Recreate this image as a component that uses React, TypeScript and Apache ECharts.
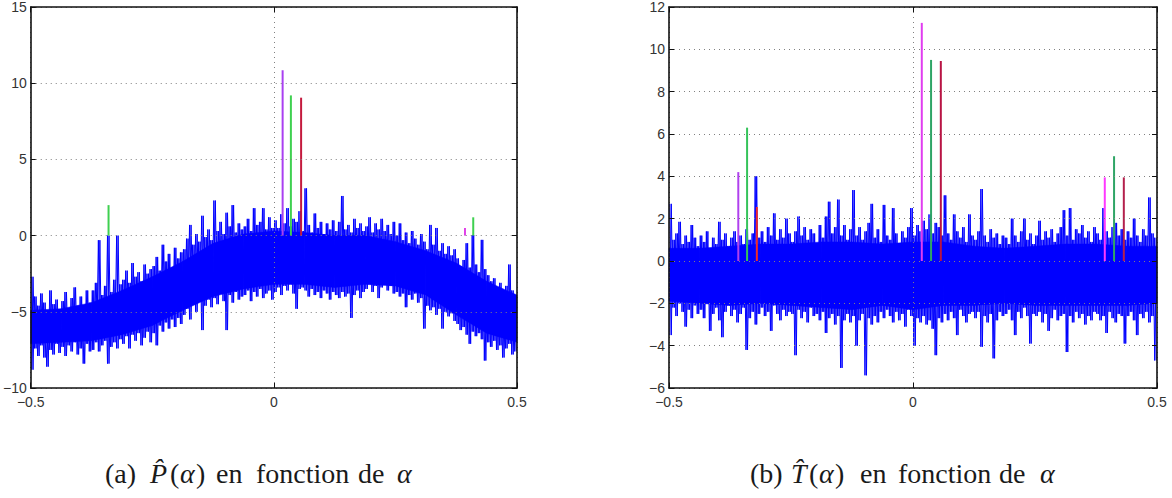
import React, { useEffect, useRef } from "react";
import * as echarts from "echarts";

// Spectral estimates sampled on 160 frequency bins over [-0.5, 0.5]:
// for each bin the upper and lower excursion of the noisy estimate.
const BINS = 160;

const pHi = [
  -2.7, -4.0, -4.6, -3.8, -4.4, -4.9, -3.6, -4.5, -4.2, -5.0,
  -4.3, -3.7, -4.8, -4.1, -3.4, -4.6, -4.0, -4.7, -3.6, -4.4,
  -3.6, -3.1, -0.3, -3.9, -3.3, 0.0, -3.7, -2.9, 0.0, -3.2,
  -2.9, -2.3, -3.1, -1.8, -2.7, -2.4, -3.0, -1.9, -2.5, -2.2,
  -2.0, -1.4, -2.3, -0.6, -1.7, -1.2, -2.1, -0.8, -1.5, -1.1,
  -0.9, -0.2, 0.7, -0.6, 0.1, -0.4, 1.3, -0.1, 0.4, -0.3,
  2.3, 0.3, 0.9, 0.1, 1.5, 0.6, 2.0, 0.2, 0.8, 0.4,
  0.6, 1.1, 0.3, 1.8, 0.7, 0.9, 1.8, 0.4, 1.2, 0.5,
  1.0, 0.5, 1.4, 0.8, 1.8, 0.6, 1.1, 0.9, 1.6, 0.3,
  3.1, 0.7, 0.2, 1.45, 0.5, 0.9, 0.1, 0.8, 0.4, 1.0,
  0.3, 0.9, 2.6, 0.4, 0.7, 0.2, 1.1, 0.5, 0.8, 0.3,
  0.6, 1.2, 0.2, 0.8, 0.4, 1.1, 0.3, 0.7, 0.1, 0.9,
  0.0, 0.8, -0.3, 0.2, -0.5, 0.3, -0.2, -0.6, 0.1, -0.4,
  -0.9, 0.7, -0.6, 0.5, -1.0, -0.5, -1.2, -0.7, -1.3, -0.9,
  -1.5, -2.0, -1.6, -0.5, -2.1, 0.04, -1.9, -2.4, -0.28, -2.2,
  -2.6, -3.0, -2.8, -3.4, -3.1, -3.7, -3.3, -1.9, -3.6, -3.9,
];

const pLo = [
  -8.8, -7.4, -7.9, -7.2, -8.0, -8.6, -7.5, -7.8, -7.1, -7.7,
  -7.3, -7.9, -7.2, -7.6, -7.0, -7.8, -7.4, -8.4, -7.1, -7.6,
  -7.5, -7.0, -7.6, -7.2, -6.9, -8.4, -7.3, -7.0, -7.4, -6.8,
  -7.1, -6.6, -7.4, -6.5, -6.9, -6.4, -7.2, -6.7, -6.3, -7.0,
  -6.4, -7.2, -5.9, -6.3, -5.7, -6.1, -5.5, -6.0, -5.4, -5.8,
  -5.2, -4.8, -5.5, -4.5, -5.0, -4.3, -6.2, -4.6, -4.2, -4.7,
  -4.1, -4.5, -3.8, -4.3, -6.2, -3.9, -4.4, -3.7, -4.2, -4.0,
  -3.9, -3.6, -4.3, -3.7, -4.0, -3.5, -4.1, -3.8, -3.6, -4.2,
  -3.7, -3.4, -3.9, -3.3, -3.6, -3.2, -3.8, -4.8, -3.5, -3.4,
  -3.6, -4.0, -3.5, -3.9, -3.7, -4.1, -3.6, -3.8, -4.2, -3.7,
  -3.9, -4.1, -3.7, -4.0, -3.8, -5.4, -3.9, -3.6, -4.1, -3.7,
  -3.5, -3.2, -3.7, -3.3, -4.1, -3.4, -3.1, -3.6, -3.3, -3.8,
  -3.7, -4.0, -3.8, -4.7, -3.9, -4.2, -3.8, -4.4, -4.1, -6.1,
  -4.6, -4.9, -4.7, -5.2, -4.8, -6.1, -5.0, -5.3, -5.1, -5.6,
  -5.8, -6.2, -6.0, -6.5, -7.1, -6.3, -6.6, -6.4, -6.8, -8.2,
  -7.0, -7.3, -6.9, -7.5, -7.2, -8.0, -7.4, -7.1, -7.8, -7.6,
];

const tHi = [
  2.7, 1.0, 1.3, 1.85, 0.8, 1.2, 0.9, 1.7, 1.1, 0.7,
  1.2, 0.9, 1.4, 0.6, 1.1, 0.8, 1.85, 1.0, 1.3, 0.7,
  1.1, 1.4, 0.9, 1.2, 0.8, 1.5, 1.0, 1.3, 4.0, 1.1,
  1.4, 0.9, 1.6, 1.2, 2.25, 1.0, 1.5, 1.1, 2.0, 1.3,
  0.9, 1.4, 2.1, 1.2, 1.6, 1.0, 1.5, 1.3, 0.8, 1.7,
  1.1, 2.1, 2.8, 1.3, 1.6, 2.9, 1.2, 1.7, 1.0, 1.5,
  3.35, 1.2, 1.6, 1.0, 1.4, 1.8, 2.7, 1.1, 1.5, 0.9,
  2.65, 1.2, 1.0, 2.5, 1.3, 0.8, 1.4, 1.1, 1.6, 2.5,
  1.2, 1.7, 1.4, 1.9, 1.5, 2.2, 1.3, 1.8, 1.6, 1.2,
  3.1, 1.3, 1.0, 2.2, 1.4, 1.1, 1.6, 0.9, 2.2, 1.2,
  1.0, 1.4, 3.4, 1.2, 0.9, 1.5, 1.1, 1.3, 0.8, 1.2,
  1.1, 0.8, 2.0, 1.2, 0.9, 1.4, 2.0, 1.0, 1.3, 0.8,
  1.2, 1.9, 1.0, 1.4, 1.1, 1.5, 0.9, 1.3, 1.6, 2.4,
  1.2, 2.5, 1.0, 1.5, 1.3, 1.7, 1.1, 1.4, 0.9, 1.6,
  1.3, 1.0, 2.5, 1.4, 1.1, 1.6, 1.8, 1.2, 1.5, 1.0,
  1.4, 1.1, 2.0, 1.2, 0.9, 1.5, 1.2, 3.0, 1.3, 1.1,
];

const tLo = [
  -3.5, -2.2, -2.6, -2.0, -2.4, -3.1, -2.3, -2.7, -2.1, -2.5,
  -2.3, -2.7, -2.0, -3.3, -2.5, -2.2, -2.8, -3.6, -2.4, -2.1,
  -2.6, -2.3, -2.9, -2.5, -2.2, -4.2, -2.7, -2.4, -3.0, -2.5,
  -2.2, -2.6, -2.4, -3.3, -2.1, -2.5, -2.8, -2.3, -2.6, -2.4,
  -2.5, -4.45, -2.3, -2.7, -2.4, -2.9, -2.2, -2.6, -2.5, -2.8,
  -2.4, -3.4, -2.7, -2.5, -3.0, -2.6, -5.05, -2.8, -2.5, -2.9,
  -2.6, -4.0, -2.8, -2.5, -5.4, -2.7, -3.0, -2.6, -2.9, -2.4,
  -2.7, -2.3, -2.6, -2.9, -2.4, -2.8, -2.5, -3.1, -2.3, -2.6,
  -4.0, -2.7, -2.9, -2.6, -3.0, -2.8, -3.2, -4.45, -2.7, -2.9,
  -2.5, -2.8, -2.4, -2.7, -3.5, -2.3, -2.6, -2.9, -2.5, -2.4,
  -2.7, -2.4, -4.05, -2.6, -2.9, -2.5, -4.6, -2.8, -2.4, -2.6,
  -2.5, -2.3, -2.8, -3.5, -2.4, -2.7, -2.2, -2.6, -3.9, -2.5,
  -2.6, -2.4, -2.9, -2.5, -3.3, -2.7, -2.3, -2.8, -2.6, -2.5,
  -4.3, -2.6, -2.9, -2.4, -2.7, -2.5, -3.0, -2.6, -2.8, -2.4,
  -2.5, -2.8, -2.6, -3.4, -2.4, -2.7, -2.9, -2.5, -2.6, -3.9,
  -2.6, -2.4, -2.8, -3.5, -2.5, -2.7, -2.4, -2.9, -2.6, -4.7,
];

// Dense core of each estimate (where the trace is solid), at alpha = -0.5, -0.4375, ..., 0.5
const coreAlpha = [-0.5, -0.4375, -0.375, -0.3125, -0.25, -0.1875, -0.125, -0.0625, 0, 0.0625, 0.125, 0.1875, 0.25, 0.3125, 0.375, 0.4375, 0.5];
const pCoreTop = [-4.9, -4.8, -4.4, -3.6, -2.7, -1.7, -0.5, 0.1, 0.3, 0.2, 0.0, 0.0, -0.4, -1.0, -1.8, -3.0, -3.9];
const pCoreBot = [-7.1, -7.0, -6.9, -6.5, -5.9, -4.9, -4.0, -3.5, -3.2, -3.2, -3.4, -3.2, -3.3, -3.9, -5.2, -6.4, -7.0];
const tCoreTop = [0.6, 0.6, 0.7, 0.8, 0.8, 0.9, 0.9, 0.8, 0.9, 0.9, 0.7, 0.6, 0.7, 0.8, 0.8, 0.7, 0.7];
const tCoreBot = [-1.9, -2.0, -2.1, -2.0, -2.1, -2.2, -2.3, -2.1, -2.3, -2.1, -2.1, -2.0, -2.1, -2.1, -2.1, -2.1, -2.0];

// Detected peaks: frequency, height, colour
const pPeakAlpha = [-0.34, 0.018, 0.035, 0.056, 0.393, 0.41];
const pPeakValue = [2.0, 10.85, 9.2, 9.05, 0.5, 1.2];
const pPeakColor = ["#3fd050", "#a840f0", "#3fd050", "#c41a3e", "#e040e8", "#3fd050"];

const tPeakAlpha = [-0.358, -0.34, -0.32, 0.018, 0.037, 0.057, 0.393, 0.412, 0.432];
const tPeakValue = [4.2, 6.3, 2.55, 11.25, 9.5, 9.45, 3.95, 4.95, 3.95];
const tPeakColor = ["#b040ee", "#35c35a", "#f02a2a", "#e03cf0", "#2fa566", "#b81444", "#ff38ff", "#2fa566", "#b4204c"];

const xTicks = { min: -0.5, max: 0.5, interval: 0.5 };
const pTicks = { min: -10, max: 15, interval: 5 };
const tTicks = { min: -6, max: 12, interval: 2 };

const captionA = [
  { text: "(a)", x: 105 },
  { text: "{i|P̂}", x: 150 },
  { text: "(", x: 170 },
  { text: "{i|α}", x: 180 },
  { text: ")", x: 196 },
  { text: "en", x: 216 },
  { text: "fonction", x: 256 },
  { text: "de", x: 358 },
  { text: "{i|α}", x: 397 },
];
const captionB = [
  { text: "(b)", x: 750 },
  { text: "{i|T̂}", x: 791 },
  { text: "(", x: 809 },
  { text: "{i|α}", x: 819 },
  { text: ")", x: 835 },
  { text: "en", x: 860 },
  { text: "fonction", x: 898 },
  { text: "de", x: 999 },
  { text: "{i|α}", x: 1040 },
];

// Two interleaved zigzags through the same per-bin extremes, one starting
// at the upper excursion, the other at the lower one.
function zigzag(hi: number[], lo: number[], upFirst: boolean) {
  const pts: number[][] = [];
  for (let i = 0; i < hi.length; i++) {
    const c = -0.5 + (i + 0.5) / BINS;
    const a = upFirst ? hi[i] : lo[i];
    const b = upFirst ? lo[i] : hi[i];
    pts.push([c - 0.25 / BINS, a]);
    pts.push([c + 0.25 / BINS, b]);
  }
  return pts;
}

function coreBand(top: number[], bot: number[], xAxisIndex: number, yAxisIndex: number) {
  return {
    type: "custom",
    xAxisIndex,
    yAxisIndex,
    silent: true,
    z: 2,
    data: coreAlpha.map((a, i) => [a, top[i], bot[i]]),
    encode: { x: 0, y: [1, 2] },
    renderItem: (params: any, api: any) => {
      const i = params.dataIndex;
      if (i >= coreAlpha.length - 1) return null;
      const p1 = api.coord([coreAlpha[i], top[i]]);
      const p2 = api.coord([coreAlpha[i + 1], top[i + 1]]);
      const p3 = api.coord([coreAlpha[i + 1], bot[i + 1]]);
      const p4 = api.coord([coreAlpha[i], bot[i]]);
      return {
        type: "polygon",
        shape: { points: [p1, p2, p3, p4] },
        style: { fill: "#0000ff", stroke: "#0000ff", lineWidth: 0.5 },
      };
    },
  };
}

const fmt = (v: number) => (v === 0 ? "0" : String(v).replace("-", "\u2212"));

function axesFor(gridIndex: number, yr: { min: number; max: number; interval: number }) {
  const line = { show: true, onZero: false, lineStyle: { color: "#111", width: 1.6 } };
  const tick = { show: true, inside: true, length: 5, lineStyle: { color: "#111", width: 1 } };
  const grid = { show: true, lineStyle: { color: "#808080", width: 1, type: [1, 4] } };
  const label = { show: true, color: "#333", fontSize: 14, fontFamily: "Liberation Sans, Arial, sans-serif", formatter: fmt };
  const x = [
    { type: "value", gridIndex, position: "bottom", ...xTicks, axisLine: line, axisTick: tick, splitLine: grid, axisLabel: { ...label, margin: 7 }, z: 10 },
    { type: "value", gridIndex, position: "top", ...xTicks, axisLine: line, axisTick: tick, splitLine: { show: false }, axisLabel: { show: false }, z: 10 },
  ];
  const y = [
    { type: "value", gridIndex, position: "left", ...yr, axisLine: line, axisTick: tick, splitLine: grid, axisLabel: { ...label, margin: 4 }, z: 10 },
    { type: "value", gridIndex, position: "right", ...yr, axisLine: line, axisTick: tick, splitLine: { show: false }, axisLabel: { show: false }, z: 10 },
  ];
  return { x, y };
}

function stems(alpha: number[], value: number[], color: string[], xAxisIndex: number, yAxisIndex: number) {
  return alpha.map((a, i) => ({
    type: "line",
    xAxisIndex,
    yAxisIndex,
    data: [[a, 0], [a, value[i]]],
    symbol: "none",
    lineStyle: { color: color[i], width: 2 },
    z: 4,
    silent: true,
  }));
}

function captionTexts(words: { text: string; x: number }[]) {
  return words.map((w) => ({
    type: "text",
    left: w.x,
    top: 459,
    style: {
      text: w.text,
      fill: "#1a1a1a",
      font: "28px 'Liberation Serif', 'Times New Roman', serif",
      rich: { i: { fontStyle: "italic", fontSize: 28, fontFamily: "Liberation Serif" } },
    },
  }));
}

export default function App() {
  const ref = useRef<HTMLDivElement>(null);
  useEffect(() => {
    if (!ref.current) return;
    const chart = echarts.init(ref.current, undefined, { renderer: "svg" });
    const a = axesFor(0, pTicks);
    const b = axesFor(1, tTicks);
    const blue = { type: "line", symbol: "none", lineStyle: { color: "#0000ff", width: 1 }, z: 3, silent: true };
    chart.setOption({
      animation: false,
      backgroundColor: "#fff",
      grid: [
        { left: 29, top: 3, width: 488, height: 385 },
        { left: 669, top: 3, width: 488, height: 385 },
      ],
      xAxis: [...a.x, ...b.x],
      yAxis: [...a.y, ...b.y],
      series: [
        coreBand(pCoreTop, pCoreBot, 0, 0),
        coreBand(tCoreTop, tCoreBot, 2, 2),
        { ...blue, xAxisIndex: 0, yAxisIndex: 0, data: zigzag(pHi, pLo, true) },
        { ...blue, xAxisIndex: 0, yAxisIndex: 0, data: zigzag(pHi, pLo, false) },
        { ...blue, xAxisIndex: 2, yAxisIndex: 2, data: zigzag(tHi, tLo, true) },
        { ...blue, xAxisIndex: 2, yAxisIndex: 2, data: zigzag(tHi, tLo, false) },
        ...stems(pPeakAlpha, pPeakValue, pPeakColor, 0, 0),
        ...stems(tPeakAlpha, tPeakValue, tPeakColor, 2, 2),
      ],
      graphic: [...captionTexts(captionA), ...captionTexts(captionB)],
    });
    return () => chart.dispose();
  }, []);
  return <div ref={ref} style={{ position: "fixed", left: 0, top: 0, width: 1172, height: 498 }} />;
}
